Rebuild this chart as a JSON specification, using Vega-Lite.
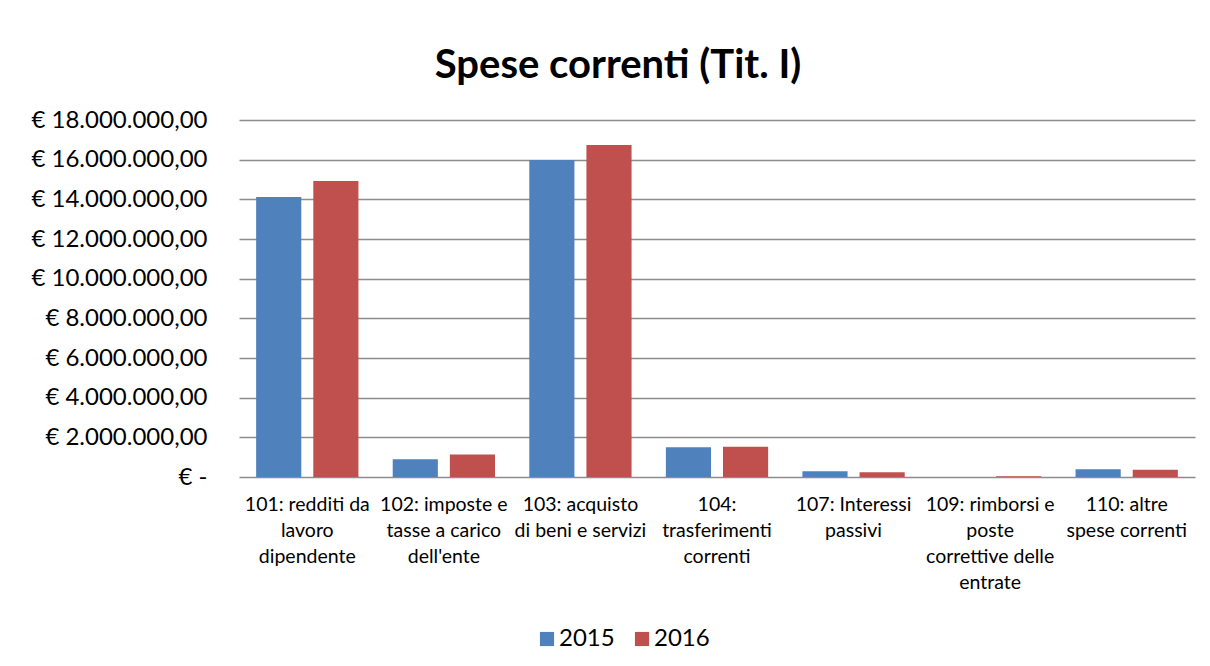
{
  "$schema": "https://vega.github.io/schema/vega-lite/v6.json",
  "width": 956,
  "height": 357,
  "autosize": {"type": "none"},
  "padding": {"left": 239, "top": 120, "right": 15, "bottom": 189},
  "background": "#ffffff",
  "config": {
    "locale": {"number": {"decimal": ",", "thousands": ".", "grouping": [3], "currency": ["€ ", ""]}},
    "font": "Lato",
    "view": {"stroke": null}
  },
  "title": {
    "text": "Spese correnti (Tit. I)",
    "font": "Lato",
    "fontSize": 40,
    "fontWeight": "bold",
    "color": "#000000",
    "anchor": "middle",
    "dx": -99,
    "offset": 22
  },
  "data": {
    "values": [
      {"cat": "101: redditi da lavoro dipendente", "year": "2015", "value": 14120000},
      {"cat": "101: redditi da lavoro dipendente", "year": "2016", "value": 14920000},
      {"cat": "102: imposte e tasse a carico dell'ente", "year": "2015", "value": 890000},
      {"cat": "102: imposte e tasse a carico dell'ente", "year": "2016", "value": 1140000},
      {"cat": "103: acquisto di beni e servizi", "year": "2015", "value": 15980000},
      {"cat": "103: acquisto di beni e servizi", "year": "2016", "value": 16740000},
      {"cat": "104: trasferimenti correnti", "year": "2015", "value": 1500000},
      {"cat": "104: trasferimenti correnti", "year": "2016", "value": 1530000},
      {"cat": "107: Interessi passivi", "year": "2015", "value": 290000},
      {"cat": "107: Interessi passivi", "year": "2016", "value": 240000},
      {"cat": "109: rimborsi e poste correttive delle entrate", "year": "2015", "value": 0},
      {"cat": "109: rimborsi e poste correttive delle entrate", "year": "2016", "value": 35000},
      {"cat": "110: altre spese correnti", "year": "2015", "value": 390000},
      {"cat": "110: altre spese correnti", "year": "2016", "value": 360000}
    ]
  },
  "mark": {"type": "bar"},
  "encoding": {
    "x": {
      "field": "cat",
      "type": "nominal",
      "sort": null,
      "scale": {"paddingInner": 0, "paddingOuter": 0},
      "axis": {
        "title": null,
        "ticks": false,
        "domain": false,
        "labelAngle": 0,
        "labelAlign": "center",
        "labelBaseline": "top",
        "labelPadding": 18,
        "labelFont": "Lato",
        "labelFontSize": 19.5,
        "labelColor": "#000000",
        "labelLineHeight": 26,
        "labelLimit": 0,
        "labelExpr": "slice(datum.value,0,3) == '101' ? ['101: redditi da','lavoro','dipendente'] : slice(datum.value,0,3) == '102' ? ['102: imposte e','tasse a carico','dell\\'ente'] : slice(datum.value,0,3) == '103' ? ['103: acquisto','di beni e servizi'] : slice(datum.value,0,3) == '104' ? ['104:','trasferimenti','correnti'] : slice(datum.value,0,3) == '107' ? ['107: Interessi','passivi'] : slice(datum.value,0,3) == '109' ? ['109: rimborsi e','poste','correttive delle','entrate'] : ['110: altre','spese correnti']"
      }
    },
    "xOffset": {
      "field": "year",
      "type": "nominal",
      "scale": {"paddingInner": 0.21, "paddingOuter": 0.3}
    },
    "y": {
      "field": "value",
      "type": "quantitative",
      "scale": {"domain": [0, 18000000], "nice": false},
      "axis": {
        "title": null,
        "ticks": false,
        "domain": false,
        "values": [0, 2000000, 4000000, 6000000, 8000000, 10000000, 12000000, 14000000, 16000000, 18000000],
        "labelExpr": "datum.value == 0 ? '€ -' : '€ ' + format(datum.value, ',.2f')",
        "labelFont": "Lato",
        "labelFontSize": 24,
        "labelColor": "#000000",
        "labelPadding": 32,
        "gridColor": "#8c8c8c",
        "gridWidth": 1.5,
        "gridOpacity": 1
      }
    },
    "color": {
      "field": "year",
      "type": "nominal",
      "scale": {"domain": ["2015", "2016"], "range": ["#4F81BD", "#C0504D"]},
      "legend": {
        "title": null,
        "orient": "none",
        "direction": "horizontal",
        "legendX": 296,
        "legendY": 507,
        "symbolType": "square",
        "symbolSize": 200,
        "symbolStrokeWidth": 0,
        "labelFont": "Lato",
        "labelFontSize": 24,
        "labelColor": "#000000",
        "labelOffset": 0,
        "columnPadding": 15
      }
    }
  }
}
